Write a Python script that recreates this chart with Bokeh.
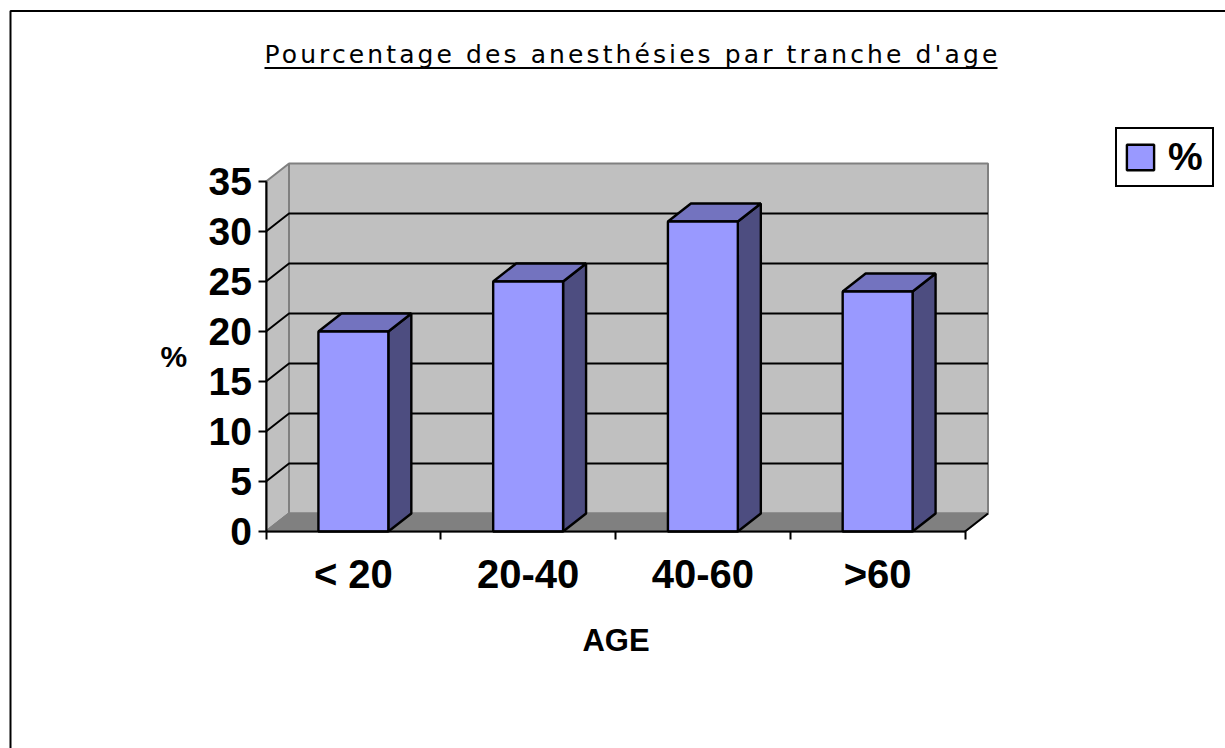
from bokeh.plotting import figure
from bokeh.io import curdoc
from bokeh.embed import file_html
from bokeh.resources import INLINE
from bokeh.models import (Range1d, LinearAxis, FixedTicker, Legend, LegendItem,
                          Label, CustomJS)

# --- data ---
categories = ["< 20", "20-40", "40-60", ">60"]
percent = [20, 25, 31, 24]
y_ticks = [0, 5, 10, 15, 20, 25, 30, 35]
title_text = "Pourcentage des anesthésies par tranche d'age"
x_label = "AGE"
y_label = "%"
series_name = "%"

# --- layout: canvas pixels to data units ---
W, H = 1225, 748
X0, Y0 = 265.5, 531    # pixel of the chart origin
SX, SY = 174.75, 10.0  # pixels per category, pixels per y unit
def X(px):
    return (px - X0) / SX
def Y(py):
    return (Y0 - py) / SY

DX = 23 / SX   # 3D depth, in category units
DY = 18 / SY   # 3D depth, in y units
BAR_W = 0.4
n = len(categories)
ymax = max(y_ticks)

FRONT, SIDE, TOP = "#9999ff", "#4d4d80", "#7373bf"
WALL, FLOOR, EDGE = "#c0c0c0", "#808080", "#808080"

p = figure(width=W, height=H, output_backend="svg", toolbar_location=None,
           x_range=Range1d(X(0), X(W)), y_range=Range1d(Y(H), Y(0)),
           x_axis_type=None, y_axis_type=None, min_border=0)
p.outline_line_color = None
p.xgrid.visible = False
p.ygrid.visible = False
p.background_fill_color = "white"
p.border_fill_color = "white"

# outer frame (runs off the right and bottom of the page)
p.line([X(W + 5), X(10), X(10)], [Y(10.5), Y(10.5), Y(H + 5)], line_color="black", line_width=2)

# title underline
p.line([X(264), X(997)], [Y(67.5), Y(67.5)], line_color="black", line_width=2)

# walls and floor
p.patch([0, DX, DX, 0], [0, DY, ymax + DY, ymax], fill_color=WALL, line_color=EDGE, line_width=2)
p.patch([DX, n + DX, n + DX, DX], [DY, DY, ymax + DY, ymax + DY], fill_color=WALL, line_color=EDGE, line_width=2)
p.patch([0, DX, n + DX, n], [0, DY, DY, 0], fill_color=FLOOR, line_color=EDGE, line_width=2)
p.line([n, n + DX], [0, DY], line_color="black", line_width=2)
p.line([0, DX], [0, DY], line_color=EDGE, line_width=2)

# gridlines across side wall and back wall
grid = [v for v in y_ticks if v not in (0, ymax)]
p.multi_line([[0, DX, n + DX] for _ in grid], [[v, v + DY, v + DY] for v in grid],
             line_color="black", line_width=2)

# bars
centers = [i + 0.5 for i in range(n)]
side_x, side_y, top_x, top_y = [], [], [], []
for c, v in zip(centers, percent):
    r = c + BAR_W / 2
    l = c - BAR_W / 2
    side_x.append([r, r + DX, r + DX, r])
    side_y.append([0, DY, v + DY, v])
    top_x.append([l, r, r + DX, l + DX])
    top_y.append([v, v, v + DY, v + DY])
p.patches(side_x, side_y, fill_color=SIDE, line_color="black", line_width=2.4)
p.patches(top_x, top_y, fill_color=TOP, line_color="black", line_width=2.4)
bars = p.vbar(x=centers, top=percent, bottom=0, width=BAR_W,
              fill_color=FRONT, line_color="black", line_width=2.4)

# axes, pinned at the chart origin
yaxis = LinearAxis(ticker=FixedTicker(ticks=y_ticks), bounds=(0, ymax), axis_label=y_label,
                   fixed_location=0)
yaxis.major_tick_out = 8
yaxis.major_tick_in = 0
yaxis.minor_tick_out = 0
yaxis.axis_line_width = 2
yaxis.major_tick_line_width = 2
yaxis.major_label_standoff = 6
yaxis.major_label_text_font = "Liberation Sans"
yaxis.major_label_text_font_style = "bold"
yaxis.major_label_text_font_size = "39px"
yaxis.major_label_text_color = "black"
yaxis.axis_label_orientation = "horizontal"
yaxis.axis_label_text_font = "Liberation Sans"
yaxis.axis_label_text_font_style = "bold"
yaxis.axis_label_text_font_size = "30px"
yaxis.axis_label_text_color = "black"
yaxis.axis_label_standoff = 19
p.add_layout(yaxis, "left")

xaxis = LinearAxis(ticker=FixedTicker(ticks=centers, minor_ticks=list(range(n + 1))),
                   bounds=(0, n), axis_label=x_label, fixed_location=0)
xaxis.major_label_overrides = {c: name for c, name in zip(centers, categories)}
xaxis.major_tick_out = 0
xaxis.major_tick_in = 0
xaxis.minor_tick_out = 8
xaxis.minor_tick_in = 0
xaxis.minor_tick_line_width = 2
xaxis.axis_line_width = 2
xaxis.major_label_standoff = 12
xaxis.major_label_text_font = "Liberation Sans"
xaxis.major_label_text_font_style = "bold"
xaxis.major_label_text_font_size = "40px"
xaxis.major_label_text_color = "black"
xaxis.axis_label_text_font = "Liberation Sans"
xaxis.axis_label_text_font_style = "bold"
xaxis.axis_label_text_font_size = "31px"
xaxis.axis_label_text_color = "black"
xaxis.axis_label_standoff = 24
p.add_layout(xaxis, "below")

# title, letter-spaced once the page has drawn it
title_label = Label(x=X(264), y=Y(53.5), text=title_text, text_align="left",
                    text_baseline="alphabetic", text_font="DejaVu Sans",
                    text_font_size="25px", text_color="black")
p.add_layout(title_label)

# legend
legend = Legend(items=[LegendItem(label=series_name, renderers=[bars])],
                location=(1115, H - 187), orientation="vertical")
legend.glyph_width = 34
legend.glyph_height = 32
legend.label_standoff = 11
legend.label_width = 38
legend.label_text_font = "Liberation Sans"
legend.label_text_font_style = "bold"
legend.label_text_font_size = "39px"
legend.label_text_color = "black"
legend.border_line_color = "black"
legend.border_line_width = 2
legend.border_line_alpha = 1
legend.background_fill_color = "white"
legend.background_fill_alpha = 1
legend.padding = 6
legend.margin = 0
legend.spacing = 0
p.add_layout(legend, "center")

doc = curdoc()
doc.add_root(p)
doc.js_on_event("document_ready", CustomJS(args=dict(t=title_text), code="""
function walk(root) {
  root.querySelectorAll('*').forEach(el => {
    if (el.tagName.toLowerCase() === 'text' && el.textContent === t) {
      el.setAttribute('letter-spacing', '3.1px');
    }
    if (el.shadowRoot) walk(el.shadowRoot);
  });
}
let tries = 0;
const timer = setInterval(() => { walk(document); if (++tries > 40) clearInterval(timer); }, 50);
"""))

open("out.html", "w").write(file_html(p, INLINE))
